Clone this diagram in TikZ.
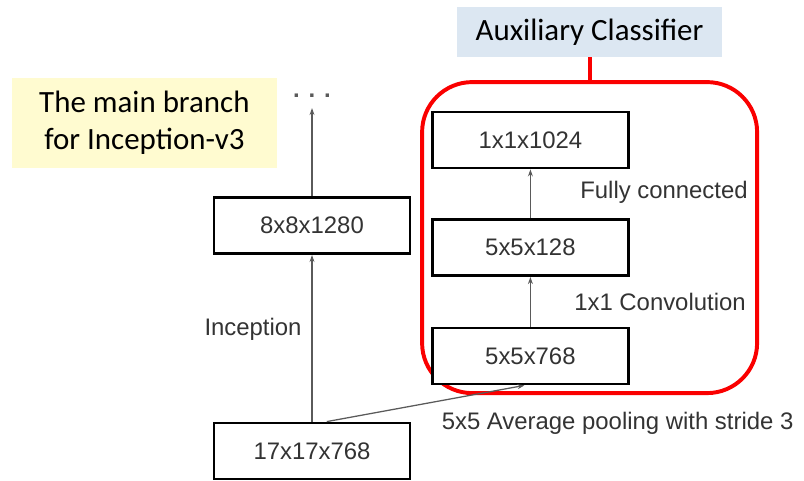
\documentclass[tikz,border=0pt]{standalone}
\usepackage{fontspec}
\setmainfont{Liberation Sans}
\newfontfamily\calibrifont{Carlito}
\usepackage{xcolor}
\definecolor{auxred}{RGB}{250,0,0}
\definecolor{auxblue}{RGB}{220,231,242}
\definecolor{mainyellow}{RGB}{255,251,208}
\definecolor{txtgray}{RGB}{51,51,51}
\definecolor{linegray}{RGB}{90,90,90}
\usetikzlibrary{arrows.meta,positioning}

\begin{document}
\begin{tikzpicture}[
  tensor/.style={rectangle, draw=black, line width=2pt, fill=white,
                 minimum width=4.9cm, minimum height=1.4cm,
                 font=\fontsize{17}{20}\selectfont, text=txtgray},
  flow/.style={-{Stealth[length=5pt,width=3.5pt]}, draw=linegray, line width=0.9pt},
  note/.style={font=\fontsize{17}{20}\selectfont, text=txtgray},
  callout/.style={rectangle, inner sep=0pt, align=center, text=black,
                  font=\calibrifont\fontsize{22}{26}\selectfont}
]
\useasboundingbox (0,0) rectangle (20.1,12);

% auxiliary classifier frame
\node[rectangle, draw=auxred, line width=2.8pt, rounded corners=1.25cm,
      minimum width=8.375cm, minimum height=7.775cm] (auxframe) at (14.74,6.06) {};
\node[callout, fill=auxblue, minimum width=6.625cm, minimum height=1.25cm]
  (auxlabel) at (14.74,11.2) {Auxiliary Classifier};
\draw[draw=auxred, line width=2.8pt] (auxframe.north) -- (auxlabel.south);

\node[callout, fill=mainyellow, minimum width=6.625cm, minimum height=2.25cm]
  (mainlabel) at (3.61,8.925) {The main branch\\for Inception-v3};

% main branch
\node[tensor] (t17) at (7.8,0.725) {17x17x768};
\node[tensor] (t8)  at (7.8,6.36)  {8x8x1280};
\node[inner sep=0pt, font=\fontsize{17}{20}\selectfont\bfseries, text=linegray]
  (dots) at (7.8,9.6) {. . .};

% auxiliary branch
\node[tensor] (a768)  at (13.26,3.1)  {5x5x768};
\node[tensor] (a128)  at (13.26,5.81) {5x5x128};
\node[tensor] (a1024) at (13.26,8.5)  {1x1x1024};

\draw[flow] (t17) -- (t8);
\draw[flow] (t8) -- ([yshift=-0.25cm]dots.south);
\draw[flow] ([xshift=0.37cm]t17.north) -- ([xshift=-0.15cm]a768.south);
\draw[flow] (a768) -- (a128);
\draw[flow] (a128) -- (a1024);

\node[note] (lfc)   at (16.6,7.2)   {Fully connected};
\node[note] (lconv) at (16.5,4.45)  {1x1 Convolution};
\node[note] (linc)  at (6.325,3.775) {Inception};
\node[note] (lpool) at (15.44,1.425) {5x5 Average pooling with stride 3};
\end{tikzpicture}
\end{document}
